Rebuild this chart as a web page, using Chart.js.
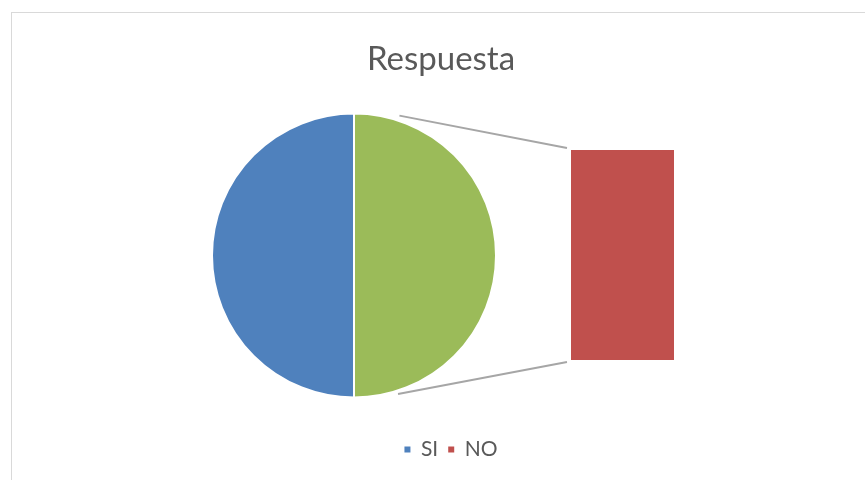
<!DOCTYPE html>
<html>
<head>
<meta charset="utf-8">
<script src="https://cdn.jsdelivr.net/npm/chart.js@4.4.0/dist/chart.umd.min.js"></script>
<style>
  html, body { margin: 0; padding: 0; background: #fff; overflow: hidden; }
  #wrap { position: relative; width: 865px; height: 480px; }
  #frame { position: absolute; left: 11px; top: 12px; width: 880px; height: 490px; border: 1px solid #d9d9d9; }
  canvas { position: absolute; left: 0; top: 0; }
</style>
</head>
<body>
<div id="wrap">
  <div id="frame"></div>
  <canvas id="barChart" width="865" height="480"></canvas>
  <canvas id="pieChart" width="865" height="480"></canvas>
</div>
<script>
// pie: SI and the "other" slice (which holds NO), bar: breakdown of the other slice
const categories = ['SI', 'NO'];
const pieValues = [50, 50];
const barCategories = ['NO'];
const barValues = [50];

const pieColors = ['#4f81bd', '#9bbb59'];
const legendColors = ['#4f81bd', '#c0504d'];
const barColor = '#c0504d';
const textColor = '#595959';

Chart.defaults.font.family = 'Lato';

// the bar goes first so the pie chart can read where it ended up
const barChart = new Chart(document.getElementById('barChart'), {
  type: 'bar',
  data: {
    labels: barCategories,
    datasets: [{
      label: 'NO',
      data: barValues,
      backgroundColor: barColor,
      borderWidth: 0,
      barPercentage: 1,
      categoryPercentage: 1
    }]
  },
  options: {
    responsive: false,
    animation: false,
    layout: { padding: { left: 571, right: 191, top: 150, bottom: 120 } },
    plugins: { legend: { display: false }, title: { display: false } },
    scales: {
      x: { display: false },
      y: { display: false, min: 0, max: barValues.reduce((a, b) => a + b, 0) }
    }
  }
});

const pieOfBar = {
  id: 'pieOfBar',
  afterLayout(chart) {
    // pie sits left of the middle, legend a little right of the title
    chart.chartArea = { left: 211, top: 112.5, right: 497, bottom: 398.5, width: 286, height: 286 };
    chart.legend.left += 10;
    chart.legend.right += 10;
  },
  afterDraw(chart) {
    const arc = chart.getDatasetMeta(0).data[0];
    const bar = barChart.getDatasetMeta(0).data[0];
    if (!arc || !bar) return;
    const r = arc.outerRadius;
    const barLeft = bar.x - bar.width / 2;
    const ctx = chart.ctx;
    ctx.save();
    ctx.strokeStyle = '#a6a6a6';
    ctx.lineWidth = 2;
    ctx.beginPath();
    ctx.moveTo(arc.x + 0.32 * r, arc.y - 0.985 * r);
    ctx.lineTo(barLeft - 4, bar.y - 2);
    ctx.moveTo(arc.x + 0.31 * r, arc.y + 0.975 * r);
    ctx.lineTo(barLeft - 4, bar.base + 2);
    ctx.stroke();
    ctx.restore();
  }
};

const pieChart = new Chart(document.getElementById('pieChart'), {
  type: 'pie',
  data: {
    labels: categories,
    datasets: [{
      data: pieValues,
      backgroundColor: pieColors,
      borderColor: '#ffffff',
      borderWidth: 2,
      hoverOffset: 0
    }]
  },
  options: {
    responsive: false,
    animation: false,
    rotation: 180,
    layout: { padding: { left: 17, right: 0, top: 0, bottom: 10 } },
    plugins: {
      title: {
        display: true,
        text: 'Respuesta',
        color: textColor,
        font: { family: 'Lato', size: 33, weight: 'normal' },
        padding: { top: 40, bottom: 0 }
      },
      legend: {
        position: 'bottom',
        labels: {
          boxWidth: 6,
          boxHeight: 6,
          padding: 10,
          color: textColor,
          font: { family: 'Lato', size: 21 },
          generateLabels: function (chart) {
            return categories.map((c, i) => ({
              text: c,
              fillStyle: legendColors[i],
              strokeStyle: legendColors[i],
              lineWidth: 0,
              fontColor: textColor,
              hidden: !chart.getDataVisibility(i),
              index: i
            }));
          }
        }
      }
    }
  },
  plugins: [pieOfBar]
});
</script>
</body>
</html>
